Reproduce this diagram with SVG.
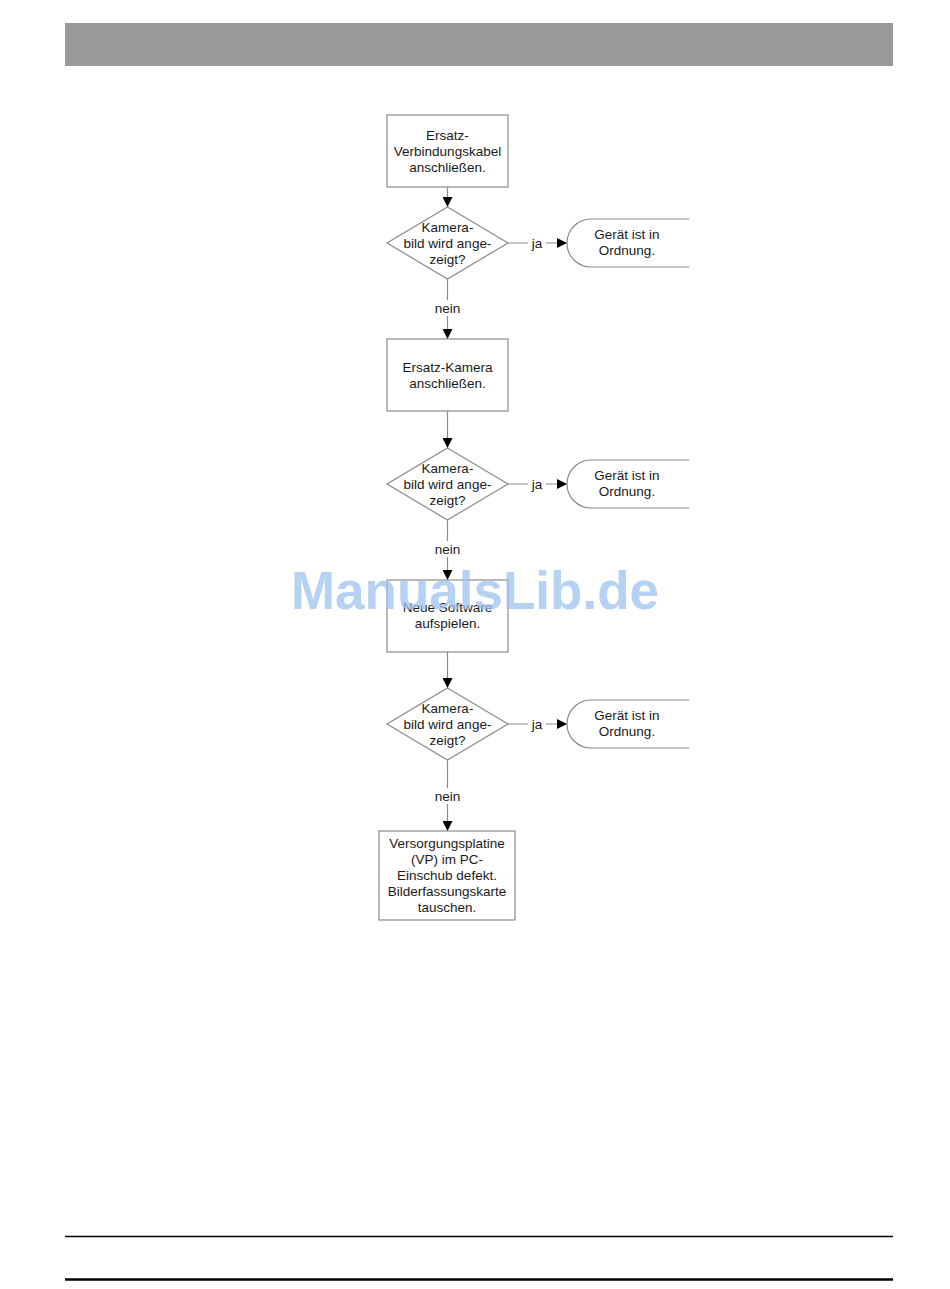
<svg xmlns="http://www.w3.org/2000/svg" width="950" height="1289" viewBox="0 0 950 1289">
<style>
.box{fill:#fff;stroke:#8a8a8a;stroke-width:1.2}
.line{fill:none;stroke:#8a8a8a;stroke-width:1.2}
.t{font-family:"Liberation Sans",Arial,sans-serif;font-size:13.5px;fill:#1a1a1a;text-anchor:middle}
.wm{font-family:"Liberation Sans",Arial,sans-serif;font-size:53px;font-weight:bold;fill:#9cc2f0;fill-opacity:0.75;text-anchor:middle}
</style>
<defs>
<marker id="arr" viewBox="0 0 10 10" refX="10" refY="5" markerWidth="10" markerHeight="10" markerUnits="userSpaceOnUse" orient="auto">
<path d="M0,0 L10,5 L0,10 Z" fill="#000"/>
</marker>
<clipPath id="clipR"><rect x="0" y="0" width="689" height="1289"/></clipPath>
</defs>
<rect x="0" y="0" width="950" height="1289" fill="#fff"/>
<rect id="header" x="65" y="23" width="828" height="43" fill="#999"/>
<line x1="65" y1="1236.5" x2="893" y2="1236.5" stroke="#000" stroke-width="1.5"/>
<line x1="65" y1="1279.5" x2="893" y2="1279.5" stroke="#000" stroke-width="2.5"/>

<g id="connectors">
<line class="line" x1="447.5" y1="187" x2="447.5" y2="207" marker-end="url(#arr)"/>
<line class="line" x1="508" y1="243" x2="567" y2="243" marker-end="url(#arr)"/>
<line class="line" x1="447.5" y1="279" x2="447.5" y2="339" marker-end="url(#arr)"/>
<line class="line" x1="447.5" y1="411" x2="447.5" y2="448" marker-end="url(#arr)"/>
<line class="line" x1="508" y1="484" x2="567" y2="484" marker-end="url(#arr)"/>
<line class="line" x1="447.5" y1="520" x2="447.5" y2="580" marker-end="url(#arr)"/>
<line class="line" x1="447.5" y1="652" x2="447.5" y2="688" marker-end="url(#arr)"/>
<line class="line" x1="508" y1="724" x2="567" y2="724" marker-end="url(#arr)"/>
<line class="line" x1="447.5" y1="760" x2="447.5" y2="831" marker-end="url(#arr)"/>
<rect x="528" y="235" width="18" height="16" fill="#fff"/>
<text class="t" x="537" y="248">ja</text>
<rect x="528" y="476" width="18" height="16" fill="#fff"/>
<text class="t" x="537" y="489">ja</text>
<rect x="528" y="716" width="18" height="16" fill="#fff"/>
<text class="t" x="537" y="729">ja</text>
<rect x="432" y="300" width="32" height="16" fill="#fff"/>
<text class="t" x="447.5" y="313">nein</text>
<rect x="432" y="541" width="32" height="16" fill="#fff"/>
<text class="t" x="447.5" y="554">nein</text>
<rect x="432" y="788" width="32" height="16" fill="#fff"/>
<text class="t" x="447.5" y="801">nein</text>
</g>

<g id="box1">
<rect class="box" x="387" y="115" width="121" height="72"/>
<text class="t" x="447.5" y="140">Ersatz-</text>
<text class="t" x="447.5" y="156">Verbindungskabel</text>
<text class="t" x="447.5" y="172">anschließen.</text>
</g>
<g id="dec1">
<polygon class="box" points="447.5,207 508,243 447.5,279 387,243"/>
<text class="t" x="447.5" y="232">Kamera-</text>
<text class="t" x="447.5" y="248">bild wird ange-</text>
<text class="t" x="447.5" y="264">zeigt?</text>
</g>
<g id="end1">
<rect class="box" x="567" y="219" width="145" height="48" rx="24" ry="24" clip-path="url(#clipR)"/>
<text class="t" x="627" y="239">Gerät ist in</text>
<text class="t" x="627" y="255">Ordnung.</text>
</g>

<g id="box2">
<rect class="box" x="387" y="339" width="121" height="72"/>
<text class="t" x="447.5" y="372">Ersatz-Kamera</text>
<text class="t" x="447.5" y="388">anschließen.</text>
</g>
<g id="dec2">
<polygon class="box" points="447.5,448 508,484 447.5,520 387,484"/>
<text class="t" x="447.5" y="473">Kamera-</text>
<text class="t" x="447.5" y="489">bild wird ange-</text>
<text class="t" x="447.5" y="505">zeigt?</text>
</g>
<g id="end2">
<rect class="box" x="567" y="460" width="145" height="48" rx="24" ry="24" clip-path="url(#clipR)"/>
<text class="t" x="627" y="480">Gerät ist in</text>
<text class="t" x="627" y="496">Ordnung.</text>
</g>

<g id="box3">
<rect class="box" x="387" y="580" width="121" height="72"/>
<text class="t" x="447.5" y="612">Neue Software</text>
<text class="t" x="447.5" y="628">aufspielen.</text>
</g>
<g id="dec3">
<polygon class="box" points="447.5,688 508,724 447.5,760 387,724"/>
<text class="t" x="447.5" y="713">Kamera-</text>
<text class="t" x="447.5" y="729">bild wird ange-</text>
<text class="t" x="447.5" y="745">zeigt?</text>
</g>
<g id="end3">
<rect class="box" x="567" y="700" width="145" height="48" rx="24" ry="24" clip-path="url(#clipR)"/>
<text class="t" x="627" y="720">Gerät ist in</text>
<text class="t" x="627" y="736">Ordnung.</text>
</g>

<g id="box4">
<rect class="box" x="379" y="831" width="136" height="89"/>
<text class="t" x="447" y="848">Versorgungsplatine</text>
<text class="t" x="447" y="864">(VP) im PC-</text>
<text class="t" x="447" y="880">Einschub defekt.</text>
<text class="t" x="447" y="896">Bilderfassungskarte</text>
<text class="t" x="447" y="912">tauschen.</text>
</g>

<text id="watermark" class="wm" x="475" y="609">ManualsLib.de</text>
</svg>
